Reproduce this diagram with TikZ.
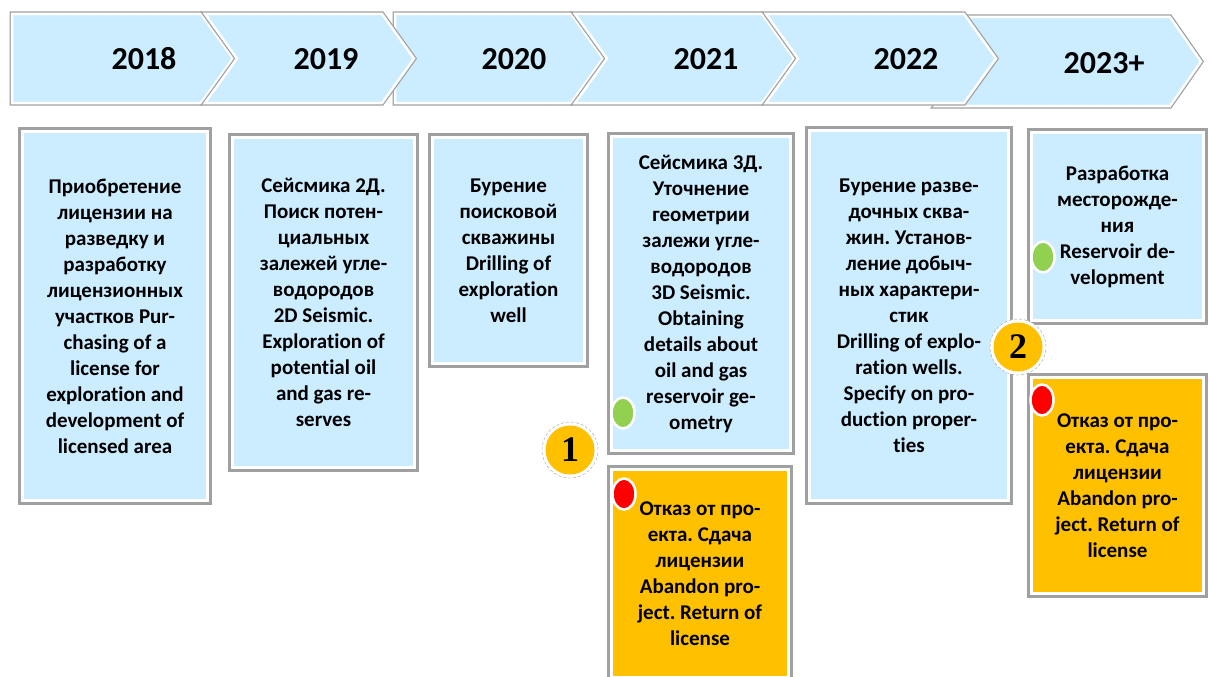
\documentclass[tikz,border=0pt]{standalone}
\usepackage{fontspec}
\setmainfont{Carlito}[Ligatures=NoCommon]
\newfontfamily\numfont{Liberation Serif}
\usetikzlibrary{shapes.geometric}
\definecolor{skyfill}{HTML}{CCECFF}
\definecolor{amber}{HTML}{FFC000}
\definecolor{leaf}{HTML}{92D050}
\definecolor{edgegray}{HTML}{A0A0A0}
\frenchspacing
\begin{document}
\begin{tikzpicture}[x=1pt, y=-1pt,
        framed/.style={draw=white, line width=3pt, preaction={draw=edgegray, line width=9pt}},
        chevron/.style={draw=white, line width=2.5pt, fill=skyfill,
            preaction={draw=edgegray, line width=5pt}},
        stage/.style={framed, fill=skyfill, rectangle, align=center, inner sep=0pt,
            font=\fontsize{21}{26}\selectfont\bfseries},
        drop/.style={stage, fill=amber},
        year/.style={font=\fontsize{32}{36}\selectfont\bfseries},
        dot/.style={ellipse, draw=white, line width=2.5pt, minimum width=23pt,
            minimum height=31pt, inner sep=0pt},
        gate/.style={circle, minimum size=56pt, inner sep=0pt, fill=white,
            draw=edgegray, densely dashed, thin,
            path picture={\fill[amber] (path picture bounding box.center) circle (24.5pt);},
            font=\numfont\fontsize{36}{36}\selectfont\bfseries}
    ]
    \useasboundingbox (0,0) rectangle (1210,677);

    % timeline
    \draw[chevron] (12,14) -- (201,14) -- (233,58.5) -- (201,103) -- (12,103) -- cycle;
    \draw[chevron] (395,14) -- (571,14) -- (603,58.5) -- (571,103) -- (395,103) -- cycle;
    \draw[chevron] (205,14) -- (382,14) -- (414,58.5) -- (382,103) -- (205,103) -- (237,58.5) -- cycle;
    \draw[chevron] (575,14) -- (762,14) -- (794,58.5) -- (762,103) -- (575,103) -- (607,58.5) -- cycle;
    \draw[chevron] (935,17) -- (1170,17) -- (1201,61.5) -- (1170,106) -- (935,106) -- (967,61.5) -- cycle;
    \draw[chevron] (766,14) -- (964,14) -- (996,58.5) -- (964,103) -- (766,103) -- (798,58.5) -- cycle;

    \node[year] (y18) at (144,59) {2018};
    \node[year] (y19) at (326,59) {2019};
    \node[year] (y20) at (514,59) {2020};
    \node[year] (y21) at (706,59) {2021};
    \node[year] (y22) at (906,59) {2022};
    \node[year] (y23) at (1104,63) {2023+};

    % stages
    \node[stage, minimum width=185pt, minimum height=369pt] (b1) at (115,316)
        {Приобретение\\лицензии на\\разведку и\\разработку\\лицензионных\\участков Pur-\\chasing of a\\license for\\exploration and\\development of\\licensed area};
    \node[stage, minimum width=182pt, minimum height=330pt] (b2) at (323.5,302.5)
        {Сейсмика 2Д.\\Поиск потен-\\циальных\\залежей угле-\\водородов\\2D Seismic.\\Exploration of\\potential oil\\and gas re-\\serves};
    \node[stage, minimum width=152pt, minimum height=226pt] (b3) at (508.5,250.5)
        {Бурение\\поисковой\\скважины\\Drilling of\\exploration\\well};
    \node[stage, minimum width=179pt, minimum height=314pt] (b4) at (701,293.5)
        {Сейсмика 3Д.\\Уточнение\\геометрии\\залежи угле-\\водородов\\3D Seismic.\\Obtaining\\details about\\oil and gas\\reservoir ge-\\ometry};
    \node[stage, minimum width=199pt, minimum height=370pt] (b5) at (909,315.5)
        {Бурение разве-\\дочных сква-\\жин. Установ-\\ление добыч-\\ных характери-\\стик\\Drilling of explo-\\ration wells.\\Specify on pro-\\duction proper-\\ties};
    \node[stage, minimum width=172pt, minimum height=188pt] (b6) at (1117.5,226.5)
        {Разработка\\месторожде-\\ния\\Reservoir de-\\velopment};

    \node[drop, minimum width=177pt, minimum height=208pt] (o1) at (700,573.5)
        {Отказ от про-\\екта. Сдача\\лицензии\\Abandon pro-\\ject. Return of\\license};
    \node[drop, minimum width=172pt, minimum height=216pt] (o2) at (1117.5,485.5)
        {Отказ от про-\\екта. Сдача\\лицензии\\Abandon pro-\\ject. Return of\\license};

    % markers
    \node[dot, fill=leaf] (g1) at (623,413) {};
    \node[dot, fill=red] (r1) at (624,494) {};
    \node[dot, fill=leaf] (g2) at (1043,257) {};
    \node[dot, fill=red] (r2) at (1042,400) {};

    \node[gate] (k1) at (570,450) {1};
    \node[gate] (k2) at (1018,347) {2};
\end{tikzpicture}
\end{document}
